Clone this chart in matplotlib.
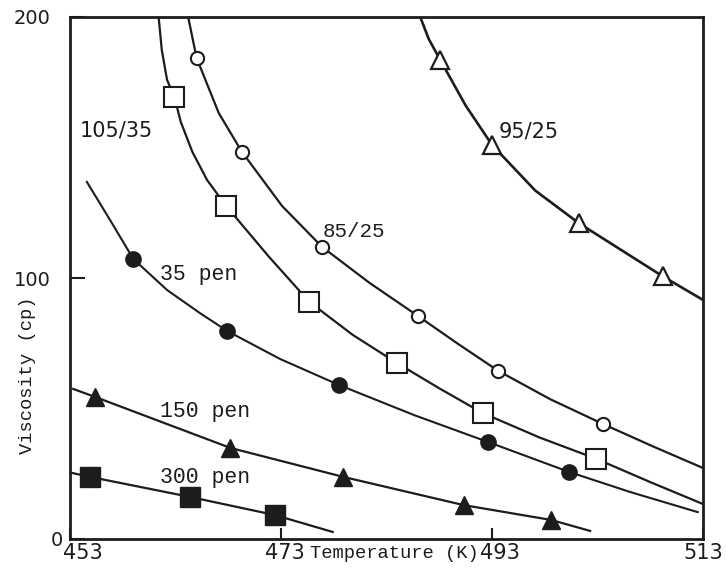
import matplotlib.pyplot as plt
from matplotlib.transforms import ScaledTranslation

# %% --- Data: temperature (K) vs viscosity (cp) ---

# 95/25 (open triangles)
t_95 = [488.1, 493.0, 501.2, 509.2]
v_95 = [183.5, 151.0, 121.1, 100.6]
t_95_curve = [486.2, 487.0, 488.1, 490.5, 493.0, 497.1, 501.2, 509.2, 513.0]
v_95_curve = [200.0, 191.6, 183.5, 166.1, 151.0, 133.5, 121.1, 100.6, 91.6]

# 85/25 (open circles)
t_85 = [465.0, 469.3, 476.9, 486.0, 493.6, 503.5]
v_85 = [184.3, 148.3, 111.9, 85.4, 64.4, 44.1]
t_85_curve = [464.2, 465.0, 467.1, 469.3, 473.1, 476.9, 481.4, 486.0, 489.8, 493.6,
              498.5, 503.5, 508.3, 513.0]
v_85_curve = [200.0, 184.3, 163.2, 148.3, 127.6, 111.9, 98.1, 85.4, 74.7, 64.4,
              53.6, 44.1, 35.4, 27.2]

# 105/35 (open squares)
t_105 = [462.9, 467.8, 475.7, 484.0, 492.1, 502.9]
v_105 = [169.3, 127.6, 90.8, 67.4, 48.3, 30.7]
t_105_curve = [461.4, 461.7, 462.2, 462.9, 463.5, 464.6, 466.0, 467.8, 471.8, 475.7,
               479.8, 484.0, 488.1, 492.1, 497.5, 502.9, 508.0, 513.0]
v_105_curve = [200.0, 187.4, 175.9, 169.3, 159.8, 148.3, 137.5, 127.6, 108.4, 90.8,
               78.2, 67.4, 57.5, 48.3, 38.9, 30.7, 21.8, 13.4]

# 35 pen (filled circles)
t_35 = [459.0, 467.9, 478.5, 492.6, 500.3]
v_35 = [107.3, 79.7, 59.0, 37.2, 25.7]
t_35_curve = [454.6, 456.8, 459.0, 462.2, 465.3, 467.9, 472.9, 478.5, 485.6, 492.6,
              500.3, 506.1, 512.5]
v_35_curve = [136.8, 122.2, 107.3, 95.4, 86.6, 79.7, 69.0, 59.0, 47.5, 37.2,
              25.7, 18.0, 10.3]

# 150 pen (filled triangles)
t_150 = [455.4, 468.2, 478.9, 490.3, 498.6]
v_150 = [54.4, 34.9, 23.8, 13.0, 7.3]
t_150_curve = [453.3, 455.4, 468.2, 478.9, 490.3, 498.6, 502.3]
v_150_curve = [57.5, 54.4, 34.9, 23.8, 13.0, 7.3, 3.1]

# 300 pen (filled squares)
t_300 = [454.9, 464.4, 472.4]
v_300 = [23.8, 16.1, 9.2]
t_300_curve = [453.2, 454.9, 464.4, 472.4, 477.9]
v_300_curve = [25.3, 23.8, 16.1, 9.2, 2.7]

x_ticks = [453, 473, 493, 513]
y_ticks = [0, 100, 200]

# %% --- Plot ---
plt.rcParams["font.family"] = "DejaVu Sans"
INK = "#1c1c1c"
MONO = "Liberation Mono"

fig = plt.figure(figsize=(7.26, 5.68), dpi=100)
ax = fig.add_axes([70 / 726, 29 / 568, 633 / 726, 522 / 568])

ax.plot(t_95_curve, v_95_curve, color=INK, lw=1.9)
ax.plot(t_95, v_95, ls="none", marker="^", ms=13, mfc="white", mec=INK, mew=1.6)

ax.plot(t_85_curve, v_85_curve, color=INK, lw=1.6)
ax.plot(t_85, v_85, ls="none", marker="o", ms=9.5, mfc="white", mec=INK, mew=1.5)

ax.plot(t_105_curve, v_105_curve, color=INK, lw=1.6)
ax.plot(t_105, v_105, ls="none", marker="s", ms=15, mfc="white", mec=INK, mew=1.5)

ax.plot(t_35_curve, v_35_curve, color=INK, lw=1.5)
ax.plot(t_35, v_35, ls="none", marker="o", ms=11, color=INK)

ax.plot(t_150_curve, v_150_curve, color=INK, lw=1.6)
ax.plot(t_150, v_150, ls="none", marker="^", ms=13.5, color=INK)

ax.plot(t_300_curve, v_300_curve, color=INK, lw=1.6)
ax.plot(t_300, v_300, ls="none", marker="s", ms=14.5, color=INK)

# curve labels
ax.text(453.9, 154.4, "105/35", fontsize=15, color=INK)
ax.text(493.6, 154.0, "95/25", fontsize=15, color=INK)
ax.text(476.9, 115.7, "85/25", fontsize=15, family=MONO, color=INK)
ax.text(461.5, 99.2, "35 pen", fontsize=15.5, family=MONO, color=INK)
ax.text(461.5, 46.7, "150 pen", fontsize=15.5, family=MONO, color=INK)
ax.text(461.5, 21.5, "300 pen", fontsize=15.5, family=MONO, color=INK)

ax.set_xlim(453, 513)
ax.set_ylim(0, 200)
ax.set_xticks(x_ticks)
ax.set_yticks(y_ticks)
ax.tick_params(direction="in", width=1.5, colors=INK)
ax.tick_params(axis="x", length=8, pad=3, labelsize=15)
ax.tick_params(axis="y", length=11, pad=14, labelsize=14)
for spine in ax.spines.values():
    spine.set_linewidth(2)
    spine.set_color(INK)

# nudge a few tick labels to where the original has them (pixels)
xlabels = ax.get_xticklabels()
for lab, dx in zip(xlabels, [13, 4, 8, 0]):
    lab.set_transform(lab.get_transform() + ScaledTranslation(dx / 100, 0, fig.dpi_scale_trans))
ylabels = ax.get_yticklabels()
ylabels[0].set_transform(ylabels[0].get_transform() + ScaledTranslation(12 / 100, 0, fig.dpi_scale_trans))

ax.set_xlabel("Temperature (K)", fontsize=13.5, family=MONO, color=INK)
ax.xaxis.set_label_coords(0.512, -0.012)
ax.set_ylabel("Viscosity (cp)", fontsize=13.5, family=MONO, color=INK)
ax.yaxis.set_label_coords(-0.054, 0.314)

plt.savefig("out.png", dpi=100)
